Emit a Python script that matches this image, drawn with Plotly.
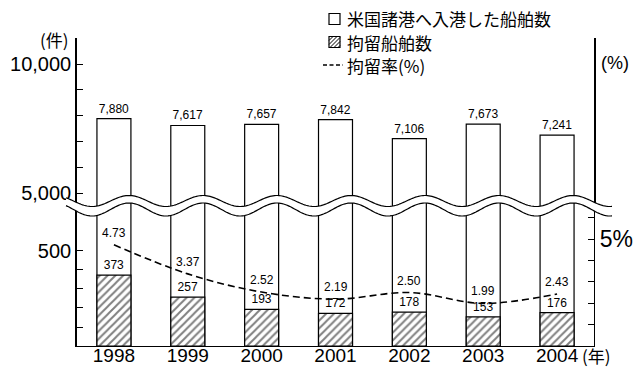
import math
import plotly.graph_objects as go

# Ships calling at US ports, detained ships and detention rate, 1998-2004
years = ["1998", "1999", "2000", "2001", "2002", "2003", "2004"]
entered = [7880, 7617, 7657, 7842, 7106, 7673, 7241]     # 米国諸港へ入港した船舶数
detained = [373, 257, 193, 172, 178, 153, 176]           # 拘留船舶数
rate = [4.73, 3.37, 2.52, 2.19, 2.50, 1.99, 2.43]        # 拘留率(%)

upper_ticks = [5000, 6000, 7000, 8000, 9000, 10000]
upper_ticktext = ["5,000", "", "", "", "", "10,000"]
lower_ticks = [100, 200, 300, 400, 500]
lower_ticktext = ["", "", "", "", "500"]
rate_ticks = [1, 2, 3, 4, 5, 6]
rate_ticktext = ["", "", "", "", "5%", ""]

FONT = "Liberation Sans, Arial, Noto Sans CJK JP"
JFONT = "Noto Sans CJK JP, Liberation Sans"

W, H = 644, 367
L, R, T, B = 77, 50, 38, 21
PW, PH = W - L - R, H - T - B
SPLIT = (346 - 205) / PH          # where the lower panel meets the upper one


def px_x(px):
    return (px - L) / PW


def px_y(py):
    return (H - B - py) / PH


fig = go.Figure()

# upper panel: total ship counts (5,000 - 10,000 band)
fig.add_trace(go.Bar(
    x=years, y=entered, xaxis="x2", yaxis="y2", width=0.46,
    marker=dict(color="white", line=dict(color="black", width=1.2)),
    text=[f"{v:,}" for v in entered], textposition="outside",
    textfont=dict(size=12, family=FONT, color="black"),
    showlegend=False, hoverinfo="skip"))

# lower panel: same totals continue below the break
fig.add_trace(go.Bar(
    x=years, y=entered, xaxis="x", yaxis="y", width=0.46,
    marker=dict(color="white", line=dict(color="black", width=1.2)),
    showlegend=False, hoverinfo="skip"))

# detained ships, hatched
fig.add_trace(go.Bar(
    x=years, y=detained, xaxis="x", yaxis="y", width=0.46,
    marker=dict(color="white", line=dict(color="black", width=1.2),
                pattern=dict(shape="/", fgcolor="black", bgcolor="white",
                             size=5.5, solidity=0.35)),
    text=[str(v) for v in detained], textposition="outside",
    textfont=dict(size=12, family=FONT, color="black"),
    showlegend=False, hoverinfo="skip"))

# detention rate on the right-hand scale
fig.add_trace(go.Scatter(
    x=years, y=rate, xaxis="x", yaxis="y3", mode="lines",
    line=dict(color="black", width=1.6, dash="7px,4px", shape="spline"),
    showlegend=False, hoverinfo="skip"))

axis_common = dict(showgrid=False, zeroline=False, color="black",
                   automargin=False)

fig.update_layout(
    width=W, height=H, margin=dict(l=L, r=R, t=T, b=B, autoexpand=False),
    paper_bgcolor="white", plot_bgcolor="white",
    barmode="overlay", showlegend=False,
    font=dict(family=FONT, color="black"),
    xaxis=dict(domain=[0, 1], anchor="y", type="category",
               categoryorder="array", categoryarray=years,
               range=[-0.5, 6.5], showline=True, linecolor="black",
               linewidth=1.4, ticks="", tickfont=dict(size=19),
               ticklabelstandoff=-8, **axis_common),
    xaxis2=dict(domain=[0, 1], anchor="y2", matches="x", visible=False,
                type="category", automargin=False),
    yaxis=dict(domain=[0, SPLIT], anchor="x", range=[0, 742],
               showline=True, linecolor="black", linewidth=1.6,
               ticks="inside", ticklen=6, tickwidth=1.2, tickcolor="black",
               tickvals=lower_ticks, ticktext=lower_ticktext,
               tickfont=dict(size=20), **axis_common),
    yaxis2=dict(domain=[SPLIT, 1], anchor="x2", range=[4535, 11008],
                showline=True, linecolor="black", linewidth=1.6, mirror=True,
                ticks="inside", ticklen=6, tickwidth=1.2, tickcolor="black",
                tickvals=upper_ticks, ticktext=upper_ticktext,
                tickfont=dict(size=20), **axis_common),
    yaxis3=dict(overlaying="y", side="right", anchor="x", range=[0, 6.589],
                showline=True, linecolor="black", linewidth=1.3,
                ticks="inside", ticklen=6, tickwidth=1.2, tickcolor="black",
                tickvals=rate_ticks, ticktext=rate_ticktext,
                tickfont=dict(size=23), **axis_common),
)

# axis-break band: two parallel waves with white between them
def wave(center, amp, x0=66, x1=612, trough=92, period=74):
    pts = []
    x = x0
    while x <= x1:
        y = center + amp * math.cos(2 * math.pi * (x - trough) / period)
        pts.append((px_x(x), px_y(y)))
        x += 1.5
    return pts


up = wave(201, 5.5)
lo = wave(209.5, 6.5)


def to_path(pts, close=False):
    s = "M " + " L ".join(f"{x:.5f},{y:.5f}" for x, y in pts)
    return s + (" Z" if close else "")


shapes = [
    dict(type="path", xref="paper", yref="paper", layer="above",
         path=to_path(up + lo[::-1], close=True),
         fillcolor="white", line=dict(width=0)),
    dict(type="path", xref="paper", yref="paper", layer="above",
         path=to_path(up), line=dict(color="black", width=1.2)),
    dict(type="path", xref="paper", yref="paper", layer="above",
         path=to_path(lo), line=dict(color="black", width=1.2)),
]

# legend keys
bx0, bsz = 329, 11
rows = [19, 42, 65]
shapes.append(dict(type="rect", xref="paper", yref="paper",
                   x0=px_x(bx0), x1=px_x(bx0 + bsz),
                   y0=px_y(rows[0] - bsz / 2), y1=px_y(rows[0] + bsz / 2),
                   line=dict(color="black", width=1.2), fillcolor="white"))
hy0, hy1 = rows[1] - bsz / 2, rows[1] + bsz / 2
shapes.append(dict(type="rect", xref="paper", yref="paper",
                   x0=px_x(bx0), x1=px_x(bx0 + bsz),
                   y0=px_y(hy0), y1=px_y(hy1),
                   line=dict(color="black", width=1.2), fillcolor="white"))
# diagonal hatch inside the second key (x + y = c in pixel space)
for c in range(4, 2 * bsz, 4):
    pts = []
    for t in range(0, bsz + 1):
        xx, yy = t, c - t
        if 0 <= yy <= bsz:
            pts.append((xx, yy))
    if len(pts) >= 2:
        (ax, ay), (bxp, byp) = pts[0], pts[-1]
        shapes.append(dict(type="line", xref="paper", yref="paper",
                           x0=px_x(bx0 + ax), y0=px_y(hy0 + ay),
                           x1=px_x(bx0 + bxp), y1=px_y(hy0 + byp),
                           line=dict(color="black", width=1)))
shapes.append(dict(type="line", xref="paper", yref="paper",
                   x0=px_x(323), x1=px_x(343), y0=px_y(rows[2]), y1=px_y(rows[2]),
                   line=dict(color="black", width=1.4, dash="4px,2.5px")))

legend_text = ["米国諸港へ入港した船舶数", "拘留船舶数", "拘留率(%)"]
annotations = []
for txt, ry in zip(legend_text, rows):
    annotations.append(dict(xref="paper", yref="paper", x=px_x(345), y=px_y(ry),
                            xanchor="left", yanchor="middle", text=txt,
                            showarrow=False,
                            font=dict(size=17, family=JFONT, color="black")))

# detention-rate values, written just above each point of the dashed line
# (x given as the category index on the year axis)
for i, r in enumerate(rate):
    annotations.append(dict(xref="x", yref="y3", x=i, y=r, text=f"{r:.2f}",
                            xanchor="center", yanchor="bottom", yshift=3,
                            showarrow=False,
                            font=dict(size=12, family=FONT, color="black")))

annotations += [
    dict(xref="paper", yref="paper", x=px_x(54), y=px_y(40), text="(件)",
         xanchor="center", yanchor="middle", showarrow=False,
         font=dict(size=17, family=JFONT, color="black")),
    dict(xref="paper", yref="paper", x=px_x(599), y=px_y(63), text="(%)",
         xanchor="left", yanchor="middle", showarrow=False,
         font=dict(size=18, family=FONT, color="black")),
    dict(xref="paper", yref="paper", x=px_x(580), y=px_y(355), text="(年)",
         xanchor="left", yanchor="middle", showarrow=False,
         font=dict(size=17, family=JFONT, color="black")),
]

fig.update_layout(shapes=shapes, annotations=annotations)

fig.write_html("out.html")
